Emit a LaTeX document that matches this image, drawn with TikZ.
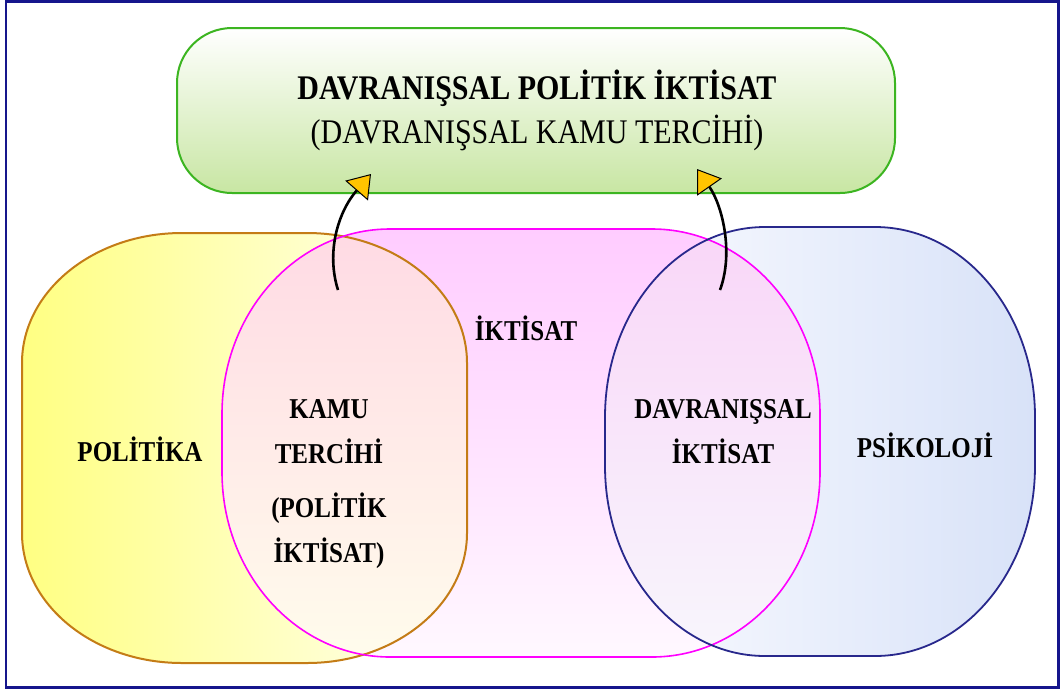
\documentclass[tikz,border=0pt]{standalone}
\usepackage{fontspec}
\setmainfont{Liberation Serif}
\usetikzlibrary{arrows.meta}
\definecolor{frameblue}{RGB}{22,22,140}
\definecolor{boxgreen}{RGB}{60,181,33}
\definecolor{greenlow}{RGB}{200,230,163}
\definecolor{polborder}{RGB}{196,124,22}
\definecolor{polyellow}{RGB}{255,255,130}
\definecolor{polwhite}{RGB}{255,255,242}
\definecolor{iktborder}{RGB}{255,0,255}
\definecolor{iktpink}{RGB}{255,204,255}
\definecolor{iktlow}{RGB}{255,248,255}
\definecolor{ovAtop}{RGB}{255,218,228}
\definecolor{ovAlow}{RGB}{255,252,236}
\definecolor{ovBtop}{RGB}{249,214,248}
\definecolor{ovBlow}{RGB}{248,246,252}
\definecolor{psiborder}{RGB}{40,40,140}
\definecolor{psiblue}{RGB}{216,226,248}
\definecolor{psiwhite}{RGB}{250,251,255}
\definecolor{tipyellow}{RGB}{255,196,0}
\newcommand\myshape[6]{(#1,#2+#6) arc[start angle=180,end angle=270,x radius=#5,y radius=#6] -- (#3-#5,#2) arc[start angle=270,end angle=360,x radius=#5,y radius=#6] -- (#3,#4-#6) arc[start angle=0,end angle=90,x radius=#5,y radius=#6] -- (#1+#5,#4) arc[start angle=90,end angle=180,x radius=#5,y radius=#6] -- cycle}
\newcommand\polpath{\myshape{22}{233}{467}{663}{160}{130}}
\newcommand\iktpath{\myshape{222}{229}{820}{657}{168}{185}}
\newcommand\psipath{\myshape{605}{227}{1035}{656}{160}{190}}
\tikzset{
  lbl/.style={font=\fontsize{25}{39}\selectfont\bfseries, align=center, text=black, transform shape, yscale=1.15, inner sep=0pt},
  titlebf/.style={font=\fontsize{30}{36}\selectfont\bfseries, text=black, transform shape, yscale=1.15, inner sep=0pt},
  titlerm/.style={font=\fontsize{30}{36}\selectfont, text=black, transform shape, yscale=1.15, inner sep=0pt},
  curvearrow/.style={line width=2.6pt, black, -{Triangle[length=22pt,width=30pt,fill=tipyellow,line width=1pt]}},
}
\begin{document}
\begin{tikzpicture}[x=1pt,y=-1pt]
\useasboundingbox (0,0) rectangle (1064,691);
\fill[white] (0,0) rectangle (1064,691);
\draw[frameblue, line width=2.5pt] (6,1.5) rectangle (1058.5,687.5);

% top box
\draw[boxgreen, line width=2pt, top color=white, bottom color=greenlow]
  \myshape{177}{28}{895}{193}{55}{55};

% fills
\fill[left color=polyellow, right color=polwhite] \polpath;
\fill[top color=iktpink, bottom color=iktlow] \iktpath;
\begin{scope}
  \clip \polpath;
  \fill[top color=ovAtop, bottom color=ovAlow] \iktpath;
\end{scope}
\fill[left color=psiwhite, right color=psiblue] \psipath;
\begin{scope}
  \clip \iktpath;
  \fill[top color=ovBtop, bottom color=ovBlow] \psipath;
\end{scope}
% borders
\draw[polborder, line width=2pt] \polpath;
\draw[iktborder, line width=1.6pt] \iktpath;
\draw[psiborder, line width=1.8pt] \psipath;

% texts
\node[titlebf] (t1) at (537,88) {DAVRANIŞSAL POLİTİK İKTİSAT};
\node[titlerm] (t2) at (537,133) {(DAVRANIŞSAL KAMU TERCİHİ)};
\node[lbl] (ikt) at (526,328) {İKTİSAT};
\node[lbl] (pol) at (140,449) {POLİTİKA};
\node[lbl] (kamu) at (329,432) {KAMU\\TERCİHİ};
\node[lbl] (polikt) at (329,531) {(POLİTİK\\İKTİSAT)};
\node[lbl] (davikt) at (723,432) {DAVRANIŞSAL\\İKTİSAT};
\node[lbl] (psi) at (925,445) {PSİKOLOJİ};

% arrows
\coordinate (a1s) at (338,290);
\coordinate (a1e) at (371,174);
\coordinate (a2s) at (720,290);
\coordinate (a2e) at (697,169);
\draw[curvearrow] (a1s) .. controls (326,252) and (338,212) .. (a1e);
\draw[curvearrow] (a2s) .. controls (734,252) and (722,205) .. (a2e);
\end{tikzpicture}
\end{document}
